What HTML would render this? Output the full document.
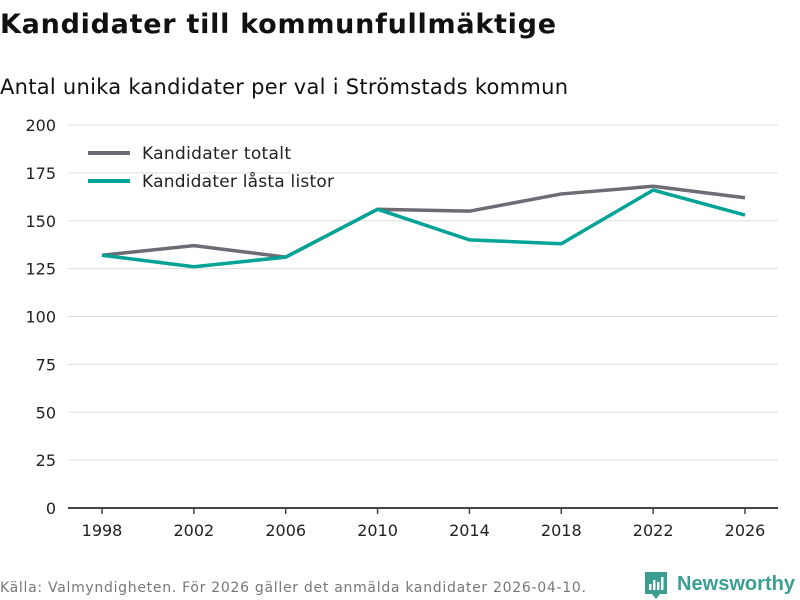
<!DOCTYPE html>
<html><head><meta charset="utf-8"><style>
body{margin:0;background:#fff;font-family:"DejaVu Sans","Liberation Sans",sans-serif;}
#wrap{position:relative;width:800px;height:600px;overflow:hidden;}
</style></head><body>
<div id="wrap">
<svg id="chart" width="800" height="600" xmlns="http://www.w3.org/2000/svg">
<text x="0" y="33" font-size="27" font-weight="bold" fill="#111" font-family="DejaVu Sans, sans-serif" textLength="556">Kandidater till kommunfullmäktige</text>
<text x="0" y="94" font-size="21" fill="#111" textLength="568">Antal unika kandidater per val i Strömstads kommun</text>
<g id="grid"></g><g id="xaxis"></g><g id="lines"></g>
<g>
<line x1="88" y1="153" x2="130" y2="153" stroke="#6e6b74" stroke-width="4"/>
<text x="142" y="159" font-size="17" fill="#222" textLength="149">Kandidater totalt</text>
<line x1="88" y1="181" x2="130" y2="181" stroke="#00a396" stroke-width="4"/>
<text x="142" y="187" font-size="17" fill="#222" textLength="192">Kandidater låsta listor</text>
</g>
<text x="0" y="592" font-size="14" fill="#777" textLength="586">Källa: Valmyndigheten. För 2026 gäller det anmälda kandidater 2026-04-10.</text>
<g>
<path d="M645 572 h22 v22 h-7 l-4 5 l-4 -5 h-7 z" fill="#3a9e91"/>
<rect x="649" y="584" width="2.5" height="6" fill="#fff"/><rect x="653" y="580" width="2.5" height="10" fill="#fff"/><rect x="657" y="582" width="2.5" height="8" fill="#fff"/><rect x="661" y="577" width="2.5" height="13" fill="#fff"/>
<text x="677" y="590" font-size="20" font-weight="bold" fill="#3a9e91" font-family="Liberation Sans, sans-serif" textLength="118">Newsworthy</text>
</g>
</svg></div>
<script>
const years=[1998,2002,2006,2010,2014,2018,2022,2026];
const totalt=[132,137,131,156,155,164,168,162];
const lasta=[132,126,131,156,140,138,166,153];
const yTicks=[0,25,50,75,100,125,150,175,200];
const NS="http://www.w3.org/2000/svg";
const xS=v=>102+(v-1998)*(745-102)/28;
const yS=v=>508-v*(508-125)/200;
const grid=document.getElementById('grid');
yTicks.forEach(t=>{
 const l=document.createElementNS(NS,'line');
 l.setAttribute('x1',68);l.setAttribute('x2',778);l.setAttribute('y1',yS(t));l.setAttribute('y2',yS(t));
 l.setAttribute('stroke',t===0?'#444':'#ddd');l.setAttribute('stroke-width',t===0?2:1);
 
 
 grid.appendChild(l);
 const tx=document.createElementNS(NS,'text');
 tx.setAttribute('x',56);tx.setAttribute('y',yS(t)+6);tx.setAttribute('text-anchor','end');
 tx.setAttribute('font-size','16');tx.setAttribute('fill','#222');tx.textContent=t;
 
 
 grid.appendChild(tx);
});
const xa=document.getElementById('xaxis');
years.forEach(y=>{
 const l=document.createElementNS(NS,'line');
 l.setAttribute('x1',xS(y));l.setAttribute('x2',xS(y));l.setAttribute('y1',508);l.setAttribute('y2',514);
 l.setAttribute('stroke','#444');l.setAttribute('stroke-width',1.5);
 
 
 xa.appendChild(l);
 const tx=document.createElementNS(NS,'text');
 tx.setAttribute('x',xS(y));tx.setAttribute('y',536);tx.setAttribute('text-anchor','middle');
 tx.setAttribute('font-size','16');tx.setAttribute('fill','#222');tx.textContent=y;
 
 
 xa.appendChild(tx);
});
const lines=document.getElementById('lines');
[[totalt,'#6e6b74','line-totalt'],[lasta,'#00a396','line-lasta']].forEach(([d,c,n])=>{
 const p=document.createElementNS(NS,'polyline');
 p.setAttribute('points',d.map((v,i)=>xS(years[i])+','+yS(v)).join(' '));
 p.setAttribute('fill','none');p.setAttribute('stroke',c);p.setAttribute('stroke-width',3.5);
 p.setAttribute('stroke-linejoin','round');
 
 
 lines.appendChild(p);
});
</script>
</body></html>
